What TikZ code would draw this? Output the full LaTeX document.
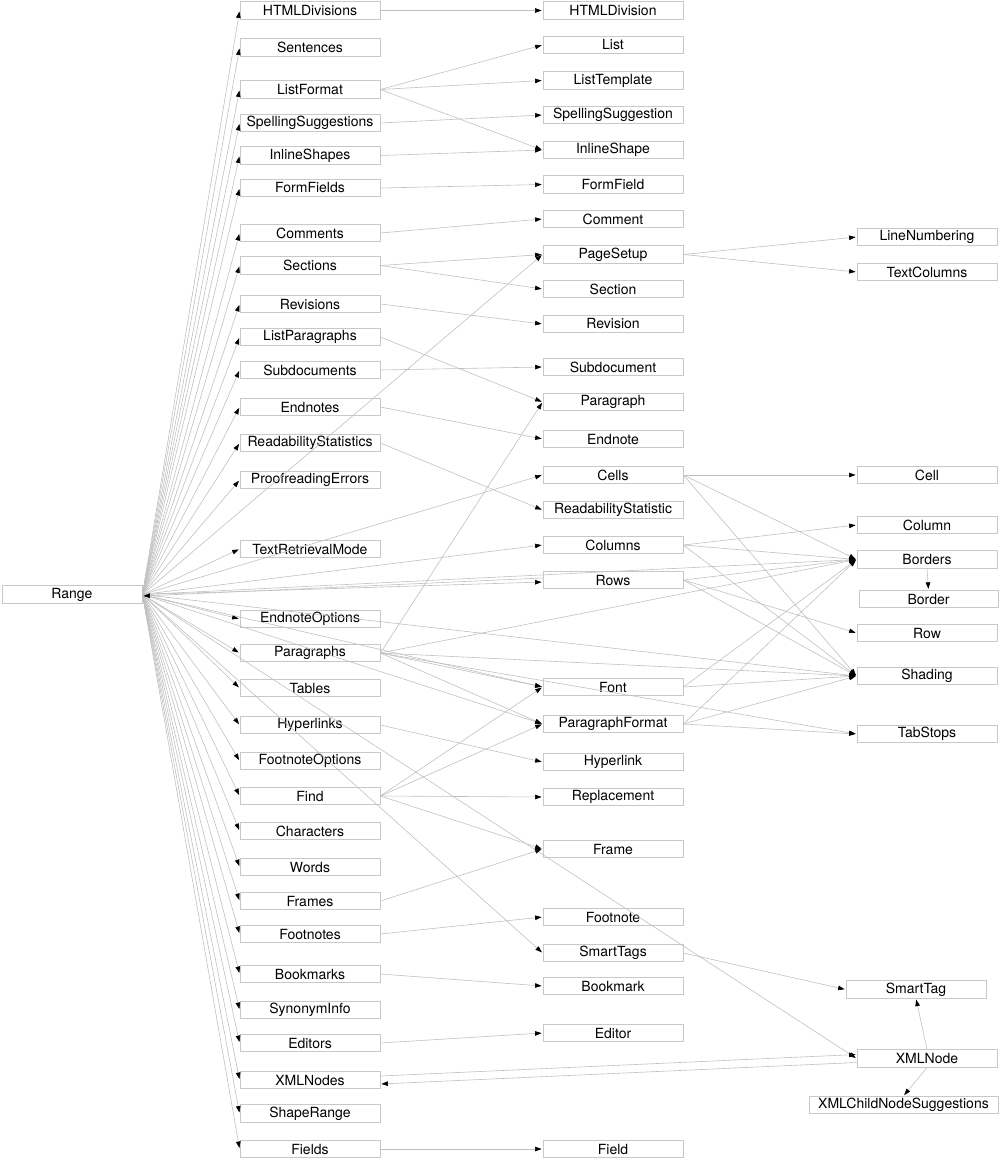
\documentclass[tikz,border=0pt]{standalone}
\usepackage{fontspec}
\setmainfont{TeX Gyre Heros}
\usetikzlibrary{arrows.meta}
\definecolor{boxc}{RGB}{200,200,200}
\definecolor{linec}{RGB}{192,192,192}
\begin{document}
\begin{tikzpicture}[x=1pt,y=-1pt,
  box/.style={draw=boxc,line width=0.8pt,minimum width=140pt,minimum height=17.5pt,inner sep=0pt,
    font=\fontsize{14}{16}\selectfont,text=black},
  conn/.style={draw=linec,line width=0.6pt,-{Triangle[length=6.5pt,width=4.5pt,color=black]},shorten >=1pt}]
\useasboundingbox (0,0) rectangle (1000,1161);
% column 1
\node[box] (Range) at (72,594.5) {Range};
% column 2
\foreach \n/\y in {HTMLDivisions/10.5, Sentences/47.5, ListFormat/89.5, SpellingSuggestions/123,
  InlineShapes/155.5, FormFields/188, Comments/233, Sections/265.5, Revisions/304,
  ListParagraphs/337, Subdocuments/370, Endnotes/407, ReadabilityStatistics/443,
  ProofreadingErrors/480, TextRetrievalMode/549, EndnoteOptions/619, Paragraphs/653,
  Tables/688, Hyperlinks/725, FootnoteOptions/761, Find/796, Characters/831, Words/867,
  Frames/901, Footnotes/934, Bookmarks/974, SynonymInfo/1010, Editors/1043, XMLNodes/1080,
  ShapeRange/1113.5, Fields/1149}
  \node[box] (\n) at (310,\y) {\n};
% column 3
\foreach \n/\y in {HTMLDivision/10.5, List/45, ListTemplate/80.5, SpellingSuggestion/115,
  InlineShape/150, FormField/184.5, Comment/219, PageSetup/254.5, Section/289, Revision/324,
  Subdocument/367, Paragraph/402, Endnote/439, Cells/475, ReadabilityStatistic/510,
  Columns/545, Rows/580, Font/687, ParagraphFormat/724, Hyperlink/762, Replacement/797,
  Frame/849, Footnote/917, SmartTags/953, Bookmark/986, Editor/1033, Field/1149}
  \node[box] (\n) at (613,\y) {\n};
% column 4
\foreach \n/\y in {LineNumbering/237, TextColumns/272, Cell/475, Column/525, Borders/559.5,
  Row/633, Shading/676, TabStops/734, XMLNode/1058.5}
  \node[box] (\n) at (927,\y) {\n};
\node[box,minimum width=139pt] (Border) at (928.5,599) {Border};
\node[box] (SmartTag) at (916,989.5) {SmartTag};
\node[box,minimum width=189pt] (XMLChildNodeSuggestions) at (903.5,1105) {XMLChildNodeSuggestions};
% edges from Range
\foreach \n in {HTMLDivisions, Sentences, ListFormat, SpellingSuggestions, InlineShapes,
  FormFields, Comments, Sections, Revisions, ListParagraphs, Subdocuments, Endnotes,
  ReadabilityStatistics, ProofreadingErrors, TextRetrievalMode, EndnoteOptions, Paragraphs,
  Tables, Hyperlinks, FootnoteOptions, Find, Characters, Words, Frames, Footnotes, Bookmarks,
  SynonymInfo, Editors, XMLNodes, ShapeRange, Fields,
  PageSetup, Cells, Columns, Font, ParagraphFormat, SmartTags, Borders, Shading, XMLNode}
  \draw[conn] (Range.east) -- (\n.west);
\draw[conn] (Range.east) -- ([yshift=-2pt]Rows.west);
\draw[conn] ([yshift=2pt]Rows.west) -- ([yshift=-1.5pt]Range.east);
% other forward edges
\foreach \a/\b in {HTMLDivisions/HTMLDivision, ListFormat/List, ListFormat/ListTemplate,
  ListFormat/InlineShape, SpellingSuggestions/SpellingSuggestion, InlineShapes/InlineShape,
  FormFields/FormField, Comments/Comment, Sections/PageSetup, Sections/Section,
  Revisions/Revision, ListParagraphs/Paragraph, Subdocuments/Subdocument, Endnotes/Endnote,
  ReadabilityStatistics/ReadabilityStatistic,
  Paragraphs/Paragraph, Paragraphs/Font, Paragraphs/ParagraphFormat, Paragraphs/Borders,
  Paragraphs/Shading, Paragraphs/TabStops,
  Hyperlinks/Hyperlink, Find/Font, Find/ParagraphFormat, Find/Replacement, Find/Frame,
  Frames/Frame, Footnotes/Footnote, Bookmarks/Bookmark, Editors/Editor, Fields/Field,
  PageSetup/LineNumbering, PageSetup/TextColumns,
  Cells/Cell, Cells/Borders, Cells/Shading,
  Columns/Column, Columns/Borders, Columns/Shading,
  Rows/Borders, Rows/Row, Rows/Shading,
  Font/Borders, Font/Shading,
  ParagraphFormat/Borders, ParagraphFormat/Shading, ParagraphFormat/TabStops,
  SmartTags/SmartTag}
  \draw[conn] (\a.east) -- (\b.west);
\draw[conn] ([yshift=4pt]XMLNodes.east) -- ([yshift=4pt]XMLNode.west);
\draw[conn] ([yshift=-4pt]XMLNode.west) -- ([yshift=-4pt]XMLNodes.east);
\draw[conn] (Borders.south) -- (Border.north);
\draw[conn] (XMLNode.north) -- (SmartTag.south);
\draw[conn] (XMLNode.south) -- (XMLChildNodeSuggestions.north);
\end{tikzpicture}
\end{document}
